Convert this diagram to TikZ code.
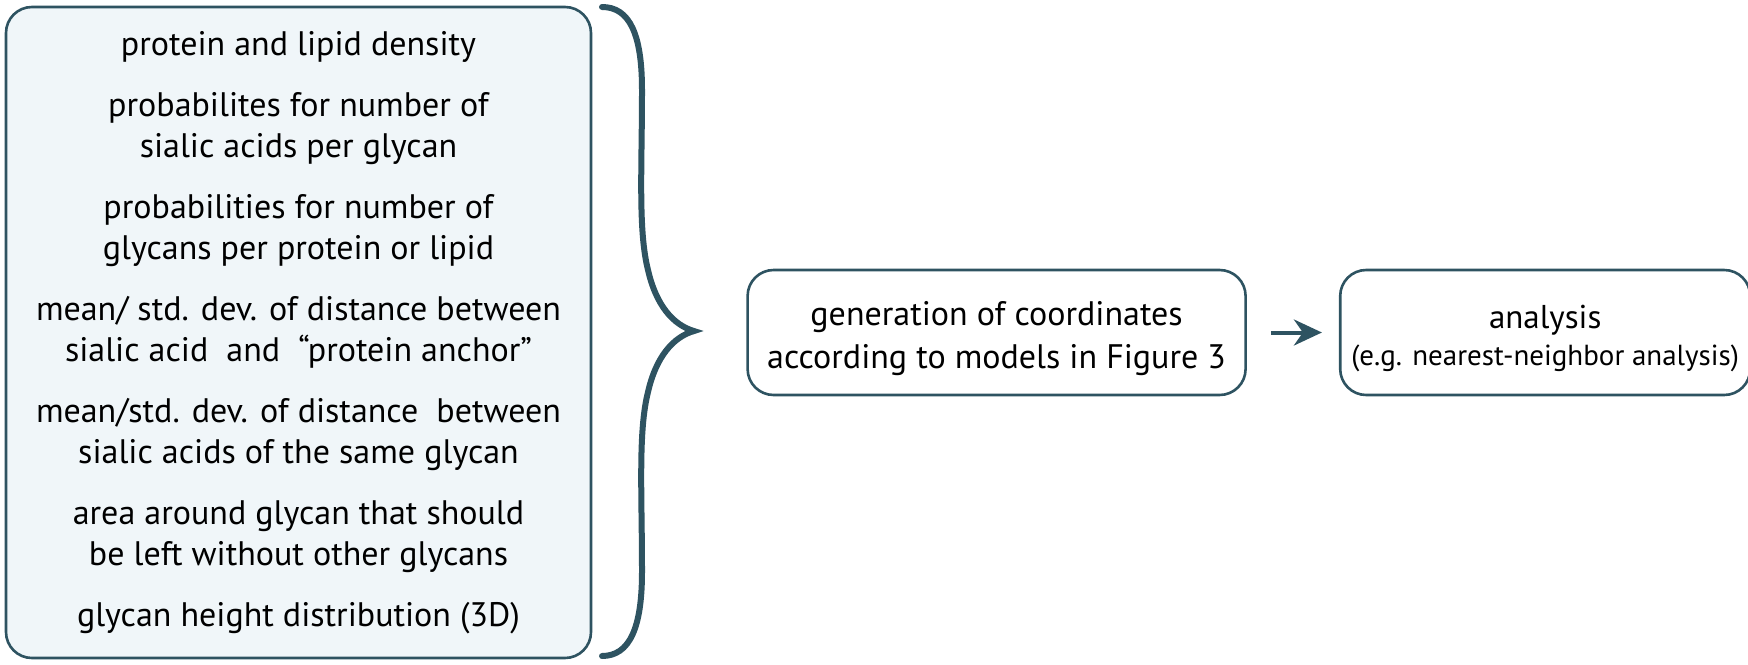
\documentclass[tikz,border=0pt]{standalone}
\usepackage{fontspec}
\setmainfont{PT Sans}
\usepackage{tikz}
\usetikzlibrary{arrows.meta}
\usetikzlibrary{positioning}

\definecolor{slate}{HTML}{2E5361}
\definecolor{paleblue}{HTML}{F0F6F9}

\begin{document}
\begin{tikzpicture}[x=1pt,y=-1pt,
        box/.style={draw=slate, line width=2.6pt, rounded corners=26pt, align=center, inner sep=0pt},
        brace/.style={draw=slate, line width=6pt, line cap=round}]
        \useasboundingbox (0,0) rectangle (1748,664);
        \node[box, fill=paleblue, minimum width=585pt, minimum height=651pt,
              font=\fontsize{34}{40.5}\selectfont] (params) at (298.5,332.5)
              {protein and lipid density\\[21pt]
               probabilites for number of\\ sialic acids per glycan\\[21pt]
               probabilities for number of\\ glycans per protein or lipid\\[21pt]
               mean/ std. dev. of distance between\\ sialic acid\ \ and\ \ “protein anchor”\\[21pt]
               mean/std. dev. of distance\ \ between\\ sialic acids of the same glycan\\[21pt]
               area around glycan that should\\ be left without other glycans\\[21pt]
               glycan height distribution (3D)};
        \node[box, right=154pt of params, minimum width=498pt, minimum height=125pt,
              font=\fontsize{34}{43}\selectfont] (gen)
              {\rule{0pt}{36pt}generation of coordinates\\ according to models in Figure 3};
        \node[box, right=92pt of gen, minimum width=410pt, minimum height=125pt] (ana)
              {{\fontsize{33}{34}\selectfont\rule{0pt}{35pt}analysis}\\[9pt]
               {\fontsize{29}{30}\selectfont (e.g. nearest-neighbor analysis)}};
        % curly brace between the inputs and the generation step
        \draw[brace] (602,7) .. controls (630,7) and (642,35) .. (642,90)
              .. controls (642,170) and (638,230) .. (648,270)
              .. controls (656,305) and (673,325) .. (694,331)
              .. controls (673,337) and (656,357) .. (648,392)
              .. controls (638,432) and (642,492) .. (642,572)
              .. controls (642,627) and (630,656) .. (602,656);
        \draw[-{Stealth[length=28pt,width=26pt,inset=9pt]}, draw=slate, fill=slate, line width=4pt,
              shorten <=24pt, shorten >=17pt] (gen) -- (ana);
    \end{tikzpicture}
\end{document}
